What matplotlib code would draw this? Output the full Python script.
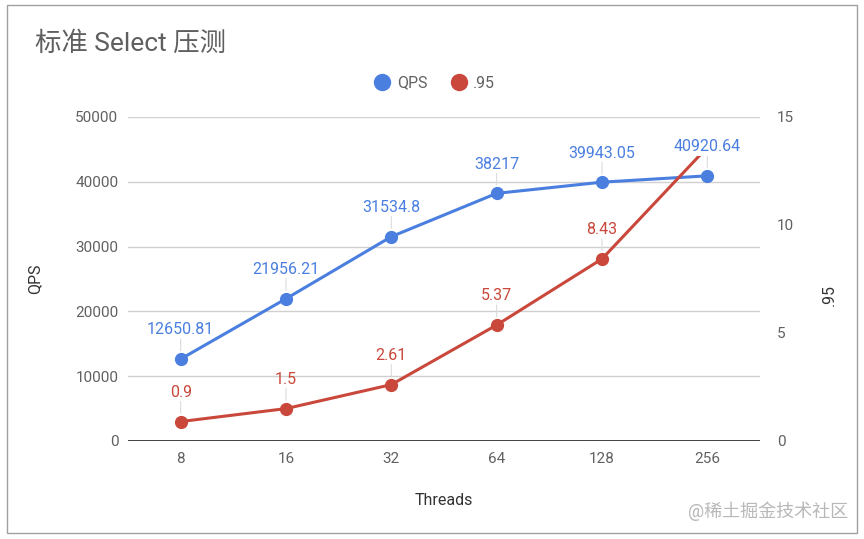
import matplotlib
matplotlib.use("Agg")
import matplotlib.pyplot as plt
from matplotlib.lines import Line2D
from matplotlib.patches import Rectangle

threads = ["8", "16", "32", "64", "128", "256"]
qps = [12650.81, 21956.21, 31534.8, 38217, 39943.05, 40920.64]
qps_labels = ["12650.81", "21956.21", "31534.8", "38217", "39943.05", "40920.64"]
p95 = [0.9, 1.5, 2.61, 5.37, 8.43, 13.6]
p95_labels = ["0.9", "1.5", "2.61", "5.37", "8.43", ""]
left_ticks = [0, 10000, 20000, 30000, 40000, 50000]
right_ticks = [0, 5, 10, 15]

BLUE = "#4a7fe0"
RED = "#c9483b"
GRAY = "#616161"

plt.rcParams['font.family'] = ['Roboto', 'Noto Sans CJK SC', 'DejaVu Sans']

W, H = 864, 539
fig = plt.figure(figsize=(W / 100, H / 100), dpi=100)
fig.patch.set_facecolor("white")
fig.patches.append(Rectangle((7 / W, 1 - 533 / H), 850 / W, 528 / H, transform=fig.transFigure,
                             fill=False, edgecolor="#a0a0a0", lw=1.0))

ax = fig.add_axes([128 / W, 1 - 441 / H, 632 / W, 324 / H])
ax2 = ax.twinx()
x = list(range(len(threads)))

ax.set_xlim(-0.5, len(threads) - 0.5)
ax.set_ylim(0, 50000)
ax2.set_ylim(0, 15)
ax.set_yticks(left_ticks)
ax.set_yticklabels([str(t) for t in left_ticks])
ax2.set_yticks(right_ticks)
ax2.set_yticklabels([str(t) for t in right_ticks])
ax.set_xticks(x)
ax.set_xticklabels(threads)

for a in (ax, ax2):
    for s in a.spines.values():
        s.set_visible(False)
    a.tick_params(length=0, labelsize=11, colors=GRAY)
ax.tick_params(axis='y', pad=7)
ax2.tick_params(axis='y', pad=12)
ax.tick_params(axis='x', pad=8)

ax.grid(axis='y', color="#d0d0d0", lw=1.0)
ax.set_axisbelow(True)
ax.axhline(0, color="#333333", lw=1.3, zorder=1)

ax.plot(x, qps, color=BLUE, lw=2.2, marker='o', markersize=8.5, zorder=3, clip_on=False)
ax2.plot(x, p95, color=RED, lw=2.2, marker='o', markersize=8.5, zorder=3)

ax.set_ylabel("QPS", fontsize=11.5, color="#333333")
ax.yaxis.set_label_coords(-0.136, 0.5)
ax2.set_ylabel(".95", fontsize=11.5, color="#333333", rotation=90)
ax2.yaxis.set_label_coords(1.098, 0.45)
ax.set_xlabel("Threads", fontsize=11.5, color="#333333")
ax.xaxis.set_label_coords(0.5, -0.16)

def label(axis_tr, xi, yi, txt, color):
    if not txt:
        return
    ax2.annotate(txt, xy=(xi, yi), xycoords=axis_tr, xytext=(0, 21), textcoords='offset points',
                 ha='center', va='center', fontsize=11.5, color=color, zorder=6,
                 bbox=dict(boxstyle='square,pad=0.1', fc='white', ec='none', alpha=0.0 if xi < 5 else 1.0),
                 arrowprops=dict(arrowstyle='-', color='#dcdcdc', lw=0.8, shrinkA=0, shrinkB=6,
                                 relpos=(0.5, 0.0)))

for xi, yi, t in zip(x, qps, qps_labels):
    label(ax.transData, xi, yi, t, BLUE)
for xi, yi, t in zip(x, p95, p95_labels):
    label(ax2.transData, xi, yi, t, RED)

handles = [Line2D([], [], marker='o', ls='none', color=BLUE, markersize=11.5),
           Line2D([], [], marker='o', ls='none', color=RED, markersize=11.5)]
fig.legend(handles, ["QPS", ".95"], loc='center', bbox_to_anchor=(434 / W, 1 - 83 / H), ncol=2,
           frameon=False, fontsize=11.5, labelcolor=GRAY, handletextpad=0.3, columnspacing=1.4,
           handlelength=1.2)

fig.text(35 / W, 1 - 44 / H, "标准 Select 压测", fontsize=19, color="#5f5f5f", va='center', ha='left')
fig.text(848 / W, 1 - 511 / H, "@稀土掘金技术社区", fontsize=13, color="#b8b8b8", va='center', ha='right')

fig.savefig("out.png", dpi=100, facecolor="white")
